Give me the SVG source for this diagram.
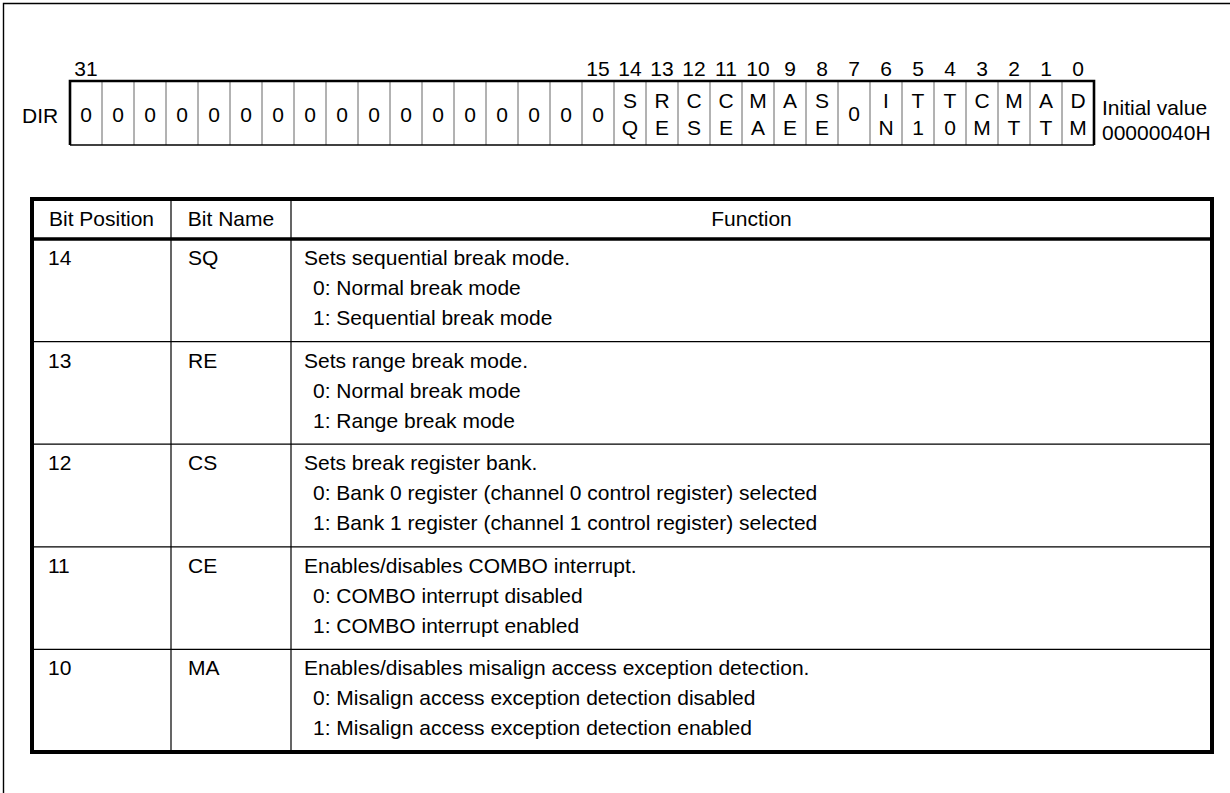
<svg xmlns="http://www.w3.org/2000/svg" width="1230" height="793" viewBox="0 0 1230 793">
<style>
text{font-family:"Liberation Sans",Arial,Helvetica,sans-serif;font-size:21px;fill:#000}
.c{text-anchor:middle}
.div{stroke:#666;stroke-width:1}
.thin{stroke:#000;stroke-width:1.2}
</style>
<rect width="1230" height="793" fill="#fff"/>
<g id="frame" stroke="#000" stroke-width="1.4" fill="none">
<path d="M1230 3.5H3.5V793"/>
</g>
<g id="register">
<g id="dividers">
<path class="div" d="M102 81V145M134 81V145M166 81V145M198 81V145M230 81V145M262 81V145M294 81V145M326 81V145M358 81V145M390 81V145M422 81V145M454 81V145M486 81V145M518 81V145M550 81V145M582 81V145M614 81V145M646 81V145M678 81V145M710 81V145M742 81V145M774 81V145M806 81V145M838 81V145M870 81V145M902 81V145M934 81V145M966 81V145M998 81V145M1030 81V145M1062 81V145"/>
</g>
<path d="M70 145V81H1094V145" fill="none" stroke="#000" stroke-width="2.6"/>
<path d="M70 145H1094" stroke="#000" stroke-width="1.5"/>
<text x="22" y="123">DIR</text>
<g id="bitnums" class="c">
<text x="86" y="76" class="c">31</text>
<text x="598" y="76" class="c">15</text>
<text x="630" y="76" class="c">14</text>
<text x="662" y="76" class="c">13</text>
<text x="694" y="76" class="c">12</text>
<text x="726" y="76" class="c">11</text>
<text x="758" y="76" class="c">10</text>
<text x="790" y="76" class="c">9</text>
<text x="822" y="76" class="c">8</text>
<text x="854" y="76" class="c">7</text>
<text x="886" y="76" class="c">6</text>
<text x="918" y="76" class="c">5</text>
<text x="950" y="76" class="c">4</text>
<text x="982" y="76" class="c">3</text>
<text x="1014" y="76" class="c">2</text>
<text x="1046" y="76" class="c">1</text>
<text x="1078" y="76" class="c">0</text>
</g>
<g id="cells">
<text x="86" y="122" class="c">0</text>
<text x="118" y="122" class="c">0</text>
<text x="150" y="122" class="c">0</text>
<text x="182" y="122" class="c">0</text>
<text x="214" y="122" class="c">0</text>
<text x="246" y="122" class="c">0</text>
<text x="278" y="122" class="c">0</text>
<text x="310" y="122" class="c">0</text>
<text x="342" y="122" class="c">0</text>
<text x="374" y="122" class="c">0</text>
<text x="406" y="122" class="c">0</text>
<text x="438" y="122" class="c">0</text>
<text x="470" y="122" class="c">0</text>
<text x="502" y="122" class="c">0</text>
<text x="534" y="122" class="c">0</text>
<text x="566" y="122" class="c">0</text>
<text x="598" y="122" class="c">0</text>
<text x="630" y="108" class="c">S</text><text x="630" y="135" class="c">Q</text>
<text x="662" y="108" class="c">R</text><text x="662" y="135" class="c">E</text>
<text x="694" y="108" class="c">C</text><text x="694" y="135" class="c">S</text>
<text x="726" y="108" class="c">C</text><text x="726" y="135" class="c">E</text>
<text x="758" y="108" class="c">M</text><text x="758" y="135" class="c">A</text>
<text x="790" y="108" class="c">A</text><text x="790" y="135" class="c">E</text>
<text x="822" y="108" class="c">S</text><text x="822" y="135" class="c">E</text>
<text x="854" y="121" class="c">0</text>
<text x="886" y="108" class="c">I</text><text x="886" y="135" class="c">N</text>
<text x="918" y="108" class="c">T</text><text x="918" y="135" class="c">1</text>
<text x="950" y="108" class="c">T</text><text x="950" y="135" class="c">0</text>
<text x="982" y="108" class="c">C</text><text x="982" y="135" class="c">M</text>
<text x="1014" y="108" class="c">M</text><text x="1014" y="135" class="c">T</text>
<text x="1046" y="108" class="c">A</text><text x="1046" y="135" class="c">T</text>
<text x="1078" y="108" class="c">D</text><text x="1078" y="135" class="c">M</text>
</g>
<text x="1102" y="115">Initial value</text>
<text x="1102" y="140">00000040H</text>
</g>
<g id="table">
<g id="grid" fill="none">
<path class="thin" d="M32 341.6H1212M32 444.2H1212M32 546.8H1212M32 649.4H1212M171 199V752M291 199V752"/>
<path d="M32 239H1212" stroke="#000" stroke-width="3.5"/>
<rect x="32" y="199" width="1180" height="553" stroke="#000" stroke-width="4"/>
</g>
<g id="header">
<text x="101.5" y="226" class="c">Bit Position</text>
<text x="231" y="226" class="c">Bit Name</text>
<text x="751.5" y="226" class="c">Function</text>
</g>
<g id="row14">
<text x="48" y="265">14</text><text x="188" y="265">SQ</text>
<text x="304" y="265">Sets sequential break mode.</text>
<text x="313" y="295">0: Normal break mode</text>
<text x="313" y="325">1: Sequential break mode</text>
</g>
<g id="row13">
<text x="48" y="367.6">13</text><text x="188" y="367.6">RE</text>
<text x="304" y="367.6">Sets range break mode.</text>
<text x="313" y="397.6">0: Normal break mode</text>
<text x="313" y="427.6">1: Range break mode</text>
</g>
<g id="row12">
<text x="48" y="470.2">12</text><text x="188" y="470.2">CS</text>
<text x="304" y="470.2">Sets break register bank.</text>
<text x="313" y="500.2">0: Bank 0 register (channel 0 control register) selected</text>
<text x="313" y="530.2">1: Bank 1 register (channel 1 control register) selected</text>
</g>
<g id="row11">
<text x="48" y="572.8">11</text><text x="188" y="572.8">CE</text>
<text x="304" y="572.8">Enables/disables COMBO interrupt.</text>
<text x="313" y="602.8">0: COMBO interrupt disabled</text>
<text x="313" y="632.8">1: COMBO interrupt enabled</text>
</g>
<g id="row10">
<text x="48" y="675.4">10</text><text x="188" y="675.4">MA</text>
<text x="304" y="675.4">Enables/disables misalign access exception detection.</text>
<text x="313" y="705.4">0: Misalign access exception detection disabled</text>
<text x="313" y="735.4">1: Misalign access exception detection enabled</text>
</g>
</g>
</svg>
